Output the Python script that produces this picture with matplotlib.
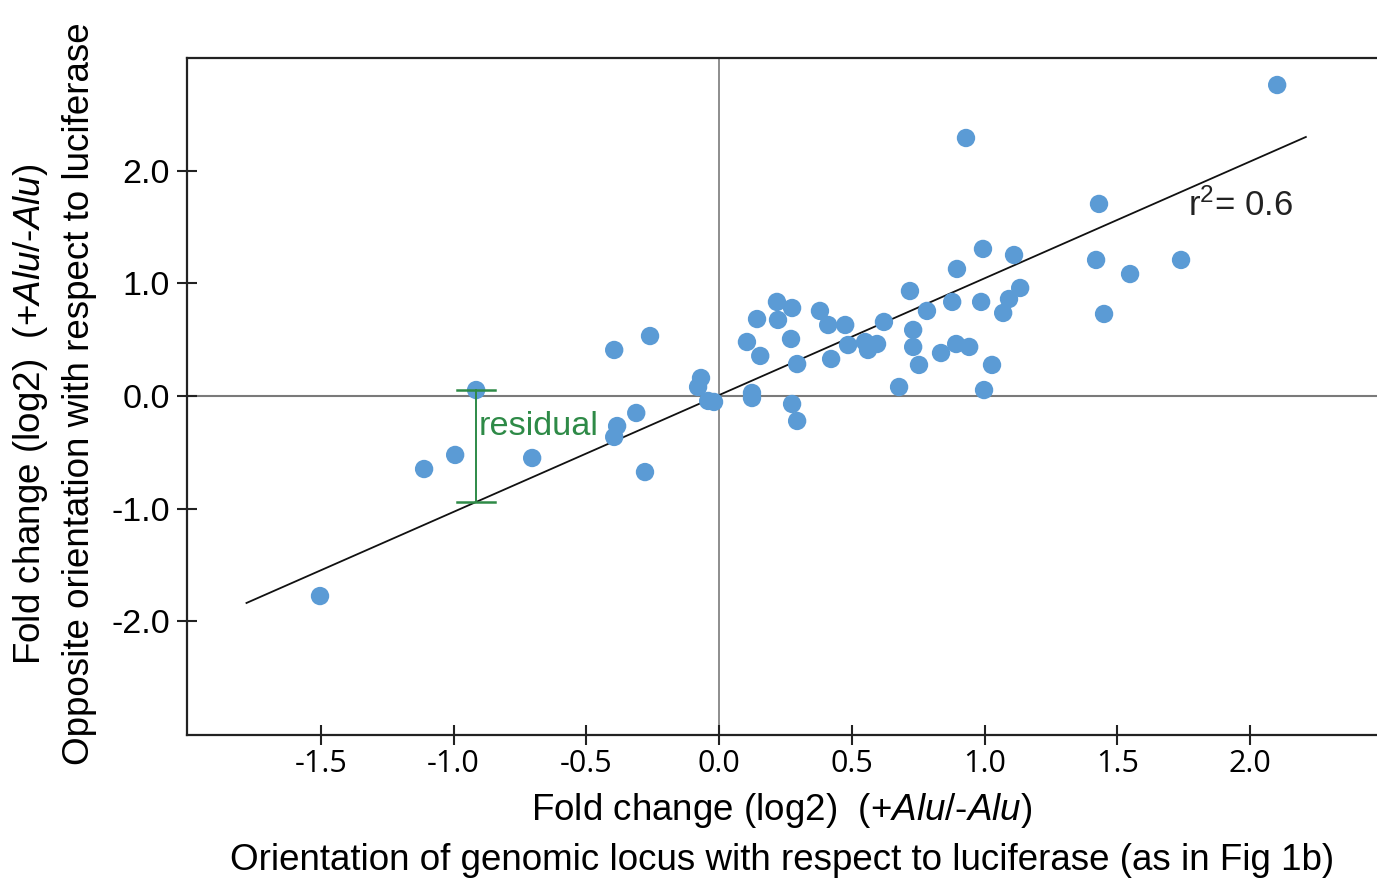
import matplotlib
matplotlib.use("Agg")
import matplotlib.pyplot as plt
import numpy as np

# ---- data ----
x_vals = [-1.503, -1.111, -0.994, -0.915, -0.704, -0.395, -0.260, -0.384, -0.395, -0.312,
          -0.279, -0.068, -0.079, -0.041, -0.019, 0.105, 0.124, 0.124, 0.143, 0.155,
          0.218, 0.222, 0.275, 0.271, 0.275, 0.294, 0.294, 0.380, 0.411, 0.422,
          0.475, 0.486, 0.550, 0.561, 0.595, 0.621, 0.678, 0.719, 0.731, 0.731,
          0.753, 0.783, 0.836, 0.878, 0.893, 0.896, 0.930, 0.942, 0.987, 0.994,
          0.998, 1.028, 1.070, 1.092, 1.111, 1.134, 1.420, 1.431, 1.450, 1.548,
          1.740, 2.102]
y_vals = [-1.778, -0.649, -0.524, 0.053, -0.551, 0.409, 0.533, -0.267, -0.364, -0.151,
          -0.676, 0.160, 0.080, -0.044, -0.053, 0.480, 0.027, -0.018, 0.684, 0.356,
          0.836, 0.676, 0.782, 0.507, -0.071, -0.222, 0.284, 0.756, 0.631, 0.329,
          0.631, 0.453, 0.480, 0.409, 0.462, 0.658, 0.080, 0.933, 0.587, 0.436,
          0.276, 0.756, 0.382, 0.836, 0.462, 1.129, 2.293, 0.436, 0.836, 1.307,
          0.053, 0.276, 0.738, 0.862, 1.253, 0.960, 1.209, 1.707, 0.729, 1.084,
          1.209, 2.764]

fit_slope = 1.038
fit_intercept = 0.008
fit_x_range = [-1.78, 2.21]
r2_value = 0.6

residual_x = -0.915
residual_y = 0.053

x_ticks = [-1.5, -1.0, -0.5, 0.0, 0.5, 1.0, 1.5, 2.0]
x_ticklabels = ["-1.5", "-1.0", "-0.5", "0.0", "0.5", "1.0", "1.5", "2.0"]
y_ticks = [-2.0, -1.0, 0.0, 1.0, 2.0]
y_ticklabels = ["-2.0", "-1.0", "0.0", "1.0", "2.0"]

# ---- style ----
plt.rcParams['font.family'] = ['Liberation Sans', 'DejaVu Sans']
plt.rcParams['mathtext.fontset'] = 'custom'
plt.rcParams['mathtext.rm'] = 'Liberation Sans'
plt.rcParams['mathtext.it'] = 'Liberation Sans:italic'

W, H = 1377, 881
fig = plt.figure(figsize=(W / 100, H / 100), dpi=100)
ax = fig.add_axes([187 / W, 1 - 735 / H, (W - 187) / W + 0.01, (735 - 58) / H])
ax.set_xlim(-2.004, 2.478 + 0.01 * W / 265.5)
ax.set_ylim(-3.013, 3.004)

blue = '#5b9bd5'
green = '#2e8a47'

ax.axhline(0, color='#7a7a7a', lw=1.5, zorder=1)
ax.axvline(0, color='#7a7a7a', lw=1.2, zorder=1)

fx = np.array(fit_x_range)
ax.plot(fx, fit_slope * fx + fit_intercept, color='#111111', lw=1.3, zorder=2)

ax.scatter(x_vals, y_vals, s=175, color=blue, edgecolors='none', zorder=3)

# residual marker
fit_at_res = fit_slope * residual_x + fit_intercept
ax.plot([residual_x, residual_x], [fit_at_res, residual_y], color=green, lw=1.4, zorder=4)
cap = 0.072
for yy in (fit_at_res, residual_y):
    ax.plot([residual_x - cap, residual_x + cap], [yy, yy], color=green, lw=1.8, zorder=4)
ax.text(-0.904, -0.347, "residual", color=green, fontsize=24.7,
        ha='left', va='baseline', zorder=5)

ax.text(1.766, 1.6, r"r$^{2}$= " + f"{r2_value}", fontsize=25, color='#222222',
        ha='left', va='baseline')

for s in ('left', 'bottom', 'top'):
    ax.spines[s].set_linewidth(1.6)
    ax.spines[s].set_color('#222222')
ax.spines['right'].set_visible(False)

ax.set_xticks(x_ticks)
ax.set_xticklabels(x_ticklabels, fontfamily='Open Sans', fontsize=22)
ax.set_yticks(y_ticks)
ax.set_yticklabels(y_ticklabels, fontfamily='Liberation Sans', fontsize=24.5)
ax.tick_params(axis='both', direction='inout', length=14.5, width=1.5, color='#222222')
ax.tick_params(axis='y', pad=5)
ax.tick_params(axis='x', pad=3)

# axis labels
lab = r"Fold change (log2)  (+$\mathit{Alu}$/-$\mathit{Alu}$)"
fig.text(782 / W, 1 - 810 / H, lab, fontsize=26.5, ha='center', va='center')
fig.text(782 / W, 1 - 860 / H,
         "Orientation of genomic locus with respect to luciferase (as in Fig 1b)",
         fontsize=26.5, ha='center', va='center')
fig.text(31 / W, 1 - 414 / H, lab, fontsize=26.5, ha='center', va='center', rotation=90)
fig.text(80 / W, 1 - 394 / H, "Opposite orientation with respect to luciferase",
         fontsize=26.5, ha='center', va='center', rotation=90)

fig.savefig("out.png", dpi=100)
